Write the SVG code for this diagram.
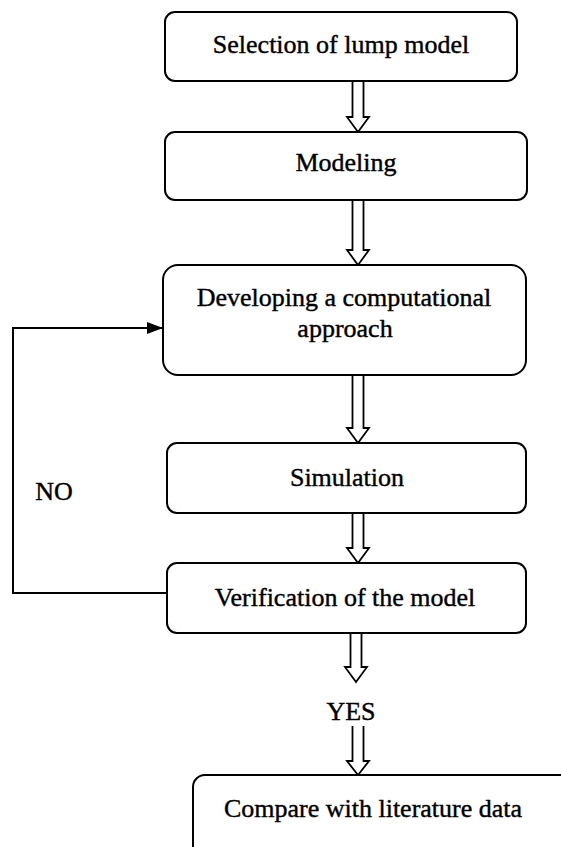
<svg xmlns="http://www.w3.org/2000/svg" width="561" height="847" viewBox="0 0 561 847">
<style>
.box{fill:#fff;stroke:#000;stroke-width:2}
.t{font-family:"Liberation Serif","Times New Roman",serif;font-size:26px;fill:#000;stroke:#000;stroke-width:0.4;text-anchor:middle}
.ha{fill:#fff;stroke:#000;stroke-width:1.8;stroke-linejoin:miter}
.ln{fill:none;stroke:#000;stroke-width:2}
</style>
<defs>
<marker id="ah" markerWidth="16" markerHeight="12" refX="15" refY="6" orient="auto" markerUnits="userSpaceOnUse">
<path d="M0,0 L16,6 L0,12 Z" fill="#000"/>
</marker>
</defs>
<rect width="561" height="847" fill="#fff"/>
<g id="connectors">
<path class="ha" d="M352.5,81 V117 H347 L358,132 L369,117 H363.5 V81"/>
<path class="ha" d="M352.5,200 V250 H347 L358,265 L369,250 H363.5 V200"/>
<path class="ha" d="M352.5,375 V428 H347 L358,443 L369,428 H363.5 V375"/>
<path class="ha" d="M352.5,513 V548 H347 L358,563 L369,548 H363.5 V513"/>
<path class="ha" d="M350.5,633 V667 H345 L356,682 L367,667 H361.5 V633"/>
<path class="ha" d="M352.5,726 V761 H347 L358,775 L369,761 H363.5 V726"/>
<polyline class="ln" points="167,593 13,593 13,328 162,328" marker-end="url(#ah)"/>
<text class="t" x="54" y="500">NO</text>
<text class="t" x="351" y="720">YES</text>
</g>
<g id="n1"><rect class="box" x="165" y="12" width="352" height="69" rx="10"/><text class="t" x="341" y="53">Selection of lump model</text></g>
<g id="n2"><rect class="box" x="165" y="132" width="362" height="68" rx="10"/><text class="t" x="346" y="171">Modeling</text></g>
<g id="n3"><rect class="box" x="163" y="265" width="363" height="110" rx="15"/><text class="t" x="344" y="306">Developing a computational</text><text class="t" x="345" y="337">approach</text></g>
<g id="n4"><rect class="box" x="167" y="443" width="359" height="70" rx="10"/><text class="t" x="347" y="486">Simulation</text></g>
<g id="n5"><rect class="box" x="167" y="563" width="359" height="70" rx="10"/><text class="t" x="345" y="606">Verification of the model</text></g>
<g id="n6"><rect class="box" x="193" y="775" width="420" height="120" rx="12"/><text class="t" x="373" y="817">Compare with literature data</text></g>
</svg>
